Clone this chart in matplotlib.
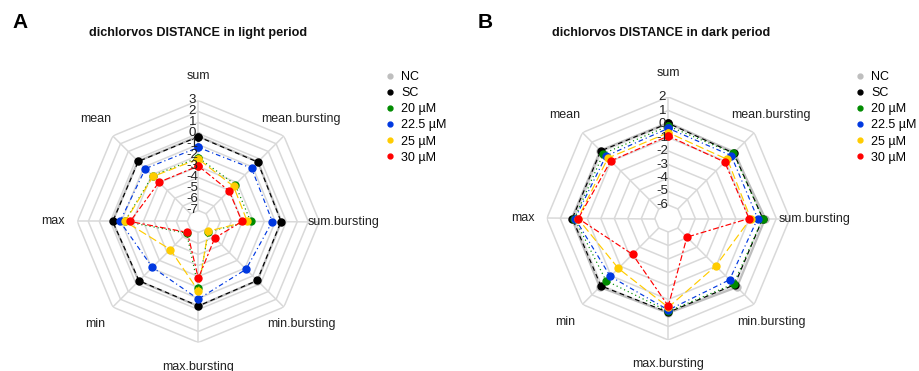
import numpy as np
import matplotlib
matplotlib.use('Agg')
import matplotlib.pyplot as plt
from matplotlib.lines import Line2D

plt.rcParams['font.family'] = ['Liberation Sans', 'DejaVu Sans']

variables = ["sum", "mean", "max", "min", "max.bursting",
             "min.bursting", "sum.bursting", "mean.bursting"]
groups = ["NC", "SC", "20 µM", "22.5 µM", "25 µM", "30 µM"]

# Panel A: light period (order follows `variables`)
light_NC   = [-0.25, -0.25, -0.20, -0.35, -0.30, -0.40, -0.45, -0.33]
light_SC   = [-0.29, -0.28, -0.22, -0.38, -0.32, -0.42, -0.48, -0.36]
light_20   = [-2.20, -2.12, -1.30, -6.50, -2.00, -6.70, -3.24, -3.25]
light_22_5 = [-1.26, -1.20, -0.88, -2.10, -0.95, -1.86, -1.27, -1.15]
light_25   = [-2.32, -2.20, -1.34, -4.40, -1.70, -6.75, -3.55, -3.47]
light_30   = [-2.95, -2.95, -1.80, -6.60, -2.84, -5.88, -4.03, -4.05]

# Panel B: dark period
dark_NC   = [0.10, 0.12, 0.15, 0.18, 0.00, 0.19, 0.18, -0.10]
dark_SC   = [0.05, 0.08, 0.11, 0.06, -0.05, -0.06, 0.00, -0.15]
dark_20   = [-0.15, -0.20, -0.05, -0.48, -0.12, -0.15, -0.01, -0.18]
dark_22_5 = [-0.32, -0.46, -0.09, -0.93, -0.22, -0.58, -0.38, -0.41]
dark_25   = [-0.64, -0.67, -0.30, -1.77, -0.42, -2.03, -0.90, -0.81]
dark_30   = [-0.89, -0.97, -0.33, -3.25, -0.52, -5.05, -1.02, -1.09]

light_ticks = [3, 2, 1, 0, -1, -2, -3, -4, -5, -6, -7]
dark_ticks = [2, 1, 0, -1, -2, -3, -4, -5, -6]

colors = ['#bebebe', '#000000', '#008B00', '#0038e0', '#FFCC00', '#FF0000']
styles = ['-', (0, (4, 3)), (0, (1, 2.5)), (0, (1, 2.5, 4, 2.5)),
          (0, (7, 3)), (0, (2, 2, 5, 2))]
widths = [1.6, 0.85, 0.85, 0.85, 0.85, 0.85]
gridc = '#d9d9d9'

W, H = 919, 371
fig = plt.figure(figsize=(W / 100, H / 100), dpi=100)


def add_polar(cx, cy, R):
    return fig.add_axes([(cx - R) / W, (H - cy - R) / H, 2 * R / W, 2 * R / H],
                        projection='polar')


def radar(ax, series, ticks):
    n = len(variables)
    theta = 2 * np.pi * np.arange(n) / n
    theta_c = np.append(theta, theta[0])
    vmax = max(ticks)
    vmin_tick = min(ticks)
    center = vmin_tick - 1
    ax.set_theta_zero_location('N')
    ax.set_theta_direction(1)
    ax.set_ylim(center, vmax)
    ax.set_xticks([])
    ax.set_yticks([])
    ax.grid(False)
    ax.spines['polar'].set_visible(False)
    ax.patch.set_alpha(0)
    for t in ticks:
        ax.plot(theta_c, [t] * (n + 1), color=gridc, lw=1.1, zorder=1)
    for th in theta:
        ax.plot([th, th], [vmin_tick, vmax], color=gridc, lw=1.1, zorder=1)
    for k, (vals, c, ls, lw) in enumerate(zip(series, colors, styles, widths)):
        v = np.append(vals, vals[0])
        ax.plot(theta_c, v, color=c, ls=ls, lw=lw, zorder=3 + k,
                marker='o', ms=5, mec=c, mfc=c, clip_on=False)
    rlab = center + 1.2 * (vmax - center)
    for th, name in zip(theta, variables):
        ax.text(th, rlab, name, ha='center', va='center', fontsize=9,
                color='#222222', clip_on=False)
    for t in ticks:
        frac = (t - center) / (vmax - center)
        ax.text(0.475, 0.5 + 0.5 * frac, str(t), transform=ax.transAxes,
                ha='center', va='center', fontsize=9.5, color='#222222',
                zorder=20)


axA = add_polar(198.3, 221.5, 121.0)
radar(axA, [light_NC, light_SC, light_20, light_22_5, light_25, light_30],
      light_ticks)
axB = add_polar(668.3, 218.5, 121.5)
radar(axB, [dark_NC, dark_SC, dark_20, dark_22_5, dark_25, dark_30],
      dark_ticks)

fig.text(198 / W, 1 - 33 / H, "dichlorvos DISTANCE in light period",
         ha='center', va='center', fontsize=9.1, fontweight='bold', color='#111111')
fig.text(661 / W, 1 - 33 / H, "dichlorvos DISTANCE in dark period",
         ha='center', va='center', fontsize=9.1, fontweight='bold', color='#111111')
fig.text(20 / W, 1 - 22 / H, "A", ha='center', va='center', fontsize=15,
         fontweight='bold')
fig.text(485 / W, 1 - 22 / H, "B", ha='center', va='center', fontsize=15,
         fontweight='bold')

handles = [Line2D([], [], marker='o', ls='none', color=c, ms=3.5) for c in colors]
for x0 in (386.0, 856.0):
    fig.legend(handles, groups, loc='upper left',
               bbox_to_anchor=(x0 / W, 1 - 71 / H), bbox_transform=fig.transFigure,
               frameon=False, fontsize=9, handlelength=0.6, handletextpad=0.6,
               labelspacing=0.33, borderpad=0, borderaxespad=0)

fig.savefig('out.png', dpi=100)
